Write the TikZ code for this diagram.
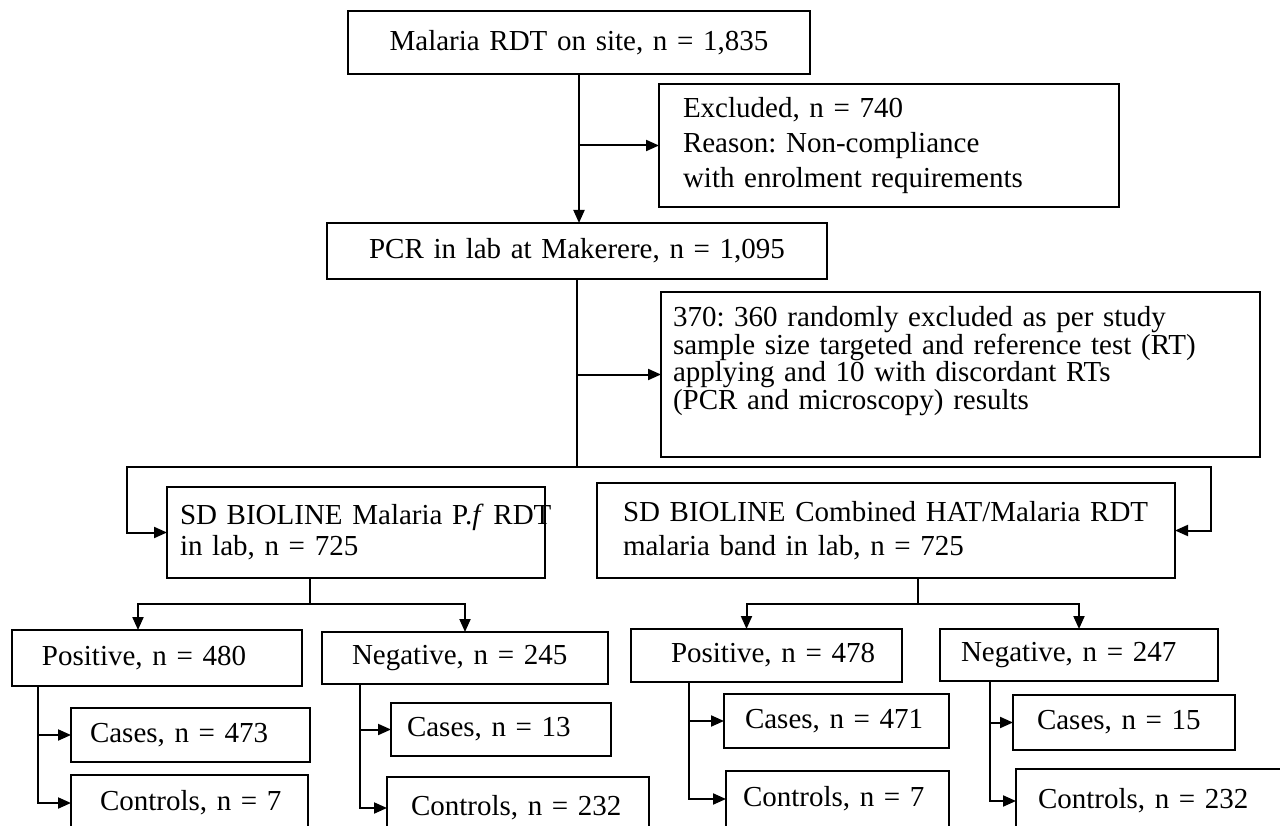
\documentclass[tikz,border=0pt]{standalone}
\usepackage{fontspec}
\setmainfont{Liberation Serif}
\usetikzlibrary{arrows.meta,calc}

\newcommand{\flowfont}{\fontsize{29}{35}\selectfont\frenchspacing}

\begin{document}
\begin{tikzpicture}[x=1pt, y=-1pt,
    box/.style={draw, line width=2pt, anchor=north west, outer sep=0pt,
      inner xsep=0pt, inner ysep=0pt, align=left, font=\flowfont},
    lpad/.style={execute at begin node={\leftskip=#1\relax}},
    link/.style={line width=2pt},
    arr/.style={link, -{Triangle[length=13pt,width=11pt]}}]
\useasboundingbox (0,0) rectangle (1280,826);
\clip (0,0) rectangle (1280,826);

\node[box, align=center, text width=462pt, minimum height=63pt] (rdt) at (348,11) {Malaria RDT on site, n = 1,835};
\node[box, lpad=24pt, text width=460pt, minimum height=123pt] (excl) at (659,84) {Excluded, n = 740\\ Reason: Non-compliance\\ with enrolment requirements};
\node[box, align=center, text width=500pt, minimum height=56pt] (pcr) at (327,223) {PCR in lab at Makerere, n = 1,095};
\node[box, lpad=12pt, text width=599pt, minimum height=165pt,
  font={\flowfont\fontsize{29}{27.5}\selectfont\lineskiplimit=-20pt}] (rand) at (661,292) {370: 360 randomly excluded as per study\\ sample size targeted and reference test (RT)\\ applying and 10 with discordant RTs\\ (PCR and microscopy) results\rule[-33pt]{0pt}{33pt}};

\node[box, lpad=13pt, text width=378pt, minimum height=91pt,
  font={\flowfont\fontsize{29}{31}\selectfont}] (sdpf) at (167,487) {\mbox{SD BIOLINE Malaria P.\textit{f} RDT}\\ in lab, n = 725};
\node[box, lpad=26pt, text width=578pt, minimum height=95pt,
  font={\flowfont\fontsize{29}{34}\selectfont}] (sdhat) at (597,483) {\mbox{SD BIOLINE Combined HAT/Malaria RDT}\\ malaria band in lab, n = 725};

\node[box, lpad=30pt, text width=290pt, minimum height=56pt] (pos1) at (12,630) {Positive, n = 480};
\node[box, lpad=30pt, text width=286pt, minimum height=52pt] (neg1) at (322,632) {Negative, n = 245};
\node[box, lpad=19pt, text width=239pt, minimum height=54pt] (cas1) at (71,708) {Cases, n = 473};
\node[box, lpad=29pt, text width=237pt, minimum height=56pt] (con1) at (71,775) {Controls, n = 7};
\node[box, lpad=16pt, text width=220pt, minimum height=53pt] (cas2) at (391,703) {Cases, n = 13};
\node[box, lpad=24pt, text width=262pt, minimum height=62pt] (con2) at (387,777) {Controls, n = 232};

\node[box, lpad=40pt, text width=271pt, minimum height=53pt] (pos2) at (631,629) {Positive, n = 478};
\node[box, lpad=21pt, text width=278pt, minimum height=52pt] (neg2) at (940,629) {Negative, n = 247};
\node[box, lpad=21pt, text width=225pt, minimum height=54pt] (cas3) at (724,694) {Cases, n = 471};
\node[box, lpad=17pt, text width=223pt, minimum height=56pt] (con3) at (726,771) {Controls, n = 7};
\node[box, lpad=24pt, text width=222pt, minimum height=55pt] (cas4) at (1013,695) {Cases, n = 15};
\node[box, lpad=22pt, text width=274pt, minimum height=64pt] (con4) at (1016,769) {Controls, n = 232};

\draw[arr] (rdt.south) -- (rdt.south |- pcr.north);
\draw[arr] (rdt.south |- excl.west) -- (excl.west);

\coordinate (trunk) at (pcr.south |- 0,467);
\coordinate (lfork) at (127,467);
\coordinate (rfork) at (1211,467);
\draw[link] (pcr.south) -- (trunk);
\draw[arr] (pcr.south |- rand.west) -- (rand.west);
\draw[arr] (trunk) -- (lfork) |- (sdpf.west);
\draw[arr] (trunk) -- (rfork) |- (sdhat.east);

\coordinate (pfk) at (310,604);
\draw[link] (pfk |- sdpf.south) -- (pfk);
\draw[arr] (pfk) -| ([xshift=-19pt]pos1.north);
\draw[arr] (pfk) -| (neg1.north);
\draw[arr] ([xshift=26pt]pos1.south west) |- (cas1.west);
\draw[arr] ([xshift=26pt]pos1.south west) |- (con1.west);
\draw[arr] ([xshift=38pt]neg1.south west) |- (cas2.west);
\draw[arr] ([xshift=38pt]neg1.south west) |- (con2.west);

\coordinate (hatk) at (918,604);
\draw[link] (hatk |- sdhat.south) -- (hatk);
\draw[arr] (hatk) -| ([xshift=-20pt]pos2.north);
\draw[arr] (hatk) -| (neg2.north);
\draw[arr] ([xshift=58pt]pos2.south west) |- (cas3.west);
\draw[arr] ([xshift=58pt]pos2.south west) |- (con3.west);
\draw[arr] ([xshift=50pt]neg2.south west) |- (cas4.west);
\draw[arr] ([xshift=50pt]neg2.south west) |- (con4.west);
\end{tikzpicture}
\end{document}
